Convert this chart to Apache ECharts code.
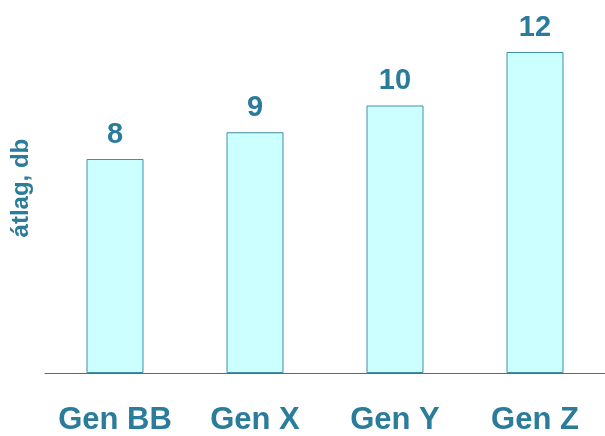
<!DOCTYPE html>
<html><head><meta charset="utf-8">
<script src="https://cdn.jsdelivr.net/npm/echarts@6/dist/echarts.min.js"></script>
<style>html,body{margin:0;padding:0;background:#fff}#c{width:605px;height:436px}</style>
</head><body><div id="c"></div>
<script>
const categories = ['Gen BB', 'Gen X', 'Gen Y', 'Gen Z'];
const values = [8, 9, 10, 12];
const yAxisName = 'átlag, db';
const teal = '#2b7b9a';
const chart = echarts.init(document.getElementById('c'), null, {renderer: 'canvas'});
chart.setOption({
  animation: false,
  grid: {left: 45, right: 0, top: 25.25, bottom: 63, containLabel: false, outerBoundsMode: 'none'},
  xAxis: {
    type: 'category', data: categories,
    axisLine: {lineStyle: {color: teal, width: 1}},
    axisTick: {show: false},
    axisLabel: {interval: 0, color: teal, fontFamily: 'Liberation Sans, Arial, sans-serif', fontWeight: 'bold', fontSize: 31, margin: 32}
  },
  yAxis: {
    type: 'value', min: 0, max: 13,
    name: yAxisName, nameLocation: 'middle', nameGap: 12, nameRotate: 90,
    nameTextStyle: {color: teal, fontFamily: 'Liberation Sans, Arial, sans-serif', fontWeight: 'bold', fontSize: 24, padding: [0, 0, 0, 22]},
    axisLine: {show: false}, axisTick: {show: false}, axisLabel: {show: false}, splitLine: {show: false}
  },
  series: [{
    type: 'bar', data: values, barWidth: 57,
    itemStyle: {color: '#ccffff', borderColor: '#3f8fa8', borderWidth: 1},
    label: {show: true, position: 'top', distance: 10, color: teal, fontFamily: 'Liberation Sans, Arial, sans-serif', fontWeight: 'bold', fontSize: 29}
  }]
});
</script></body></html>
